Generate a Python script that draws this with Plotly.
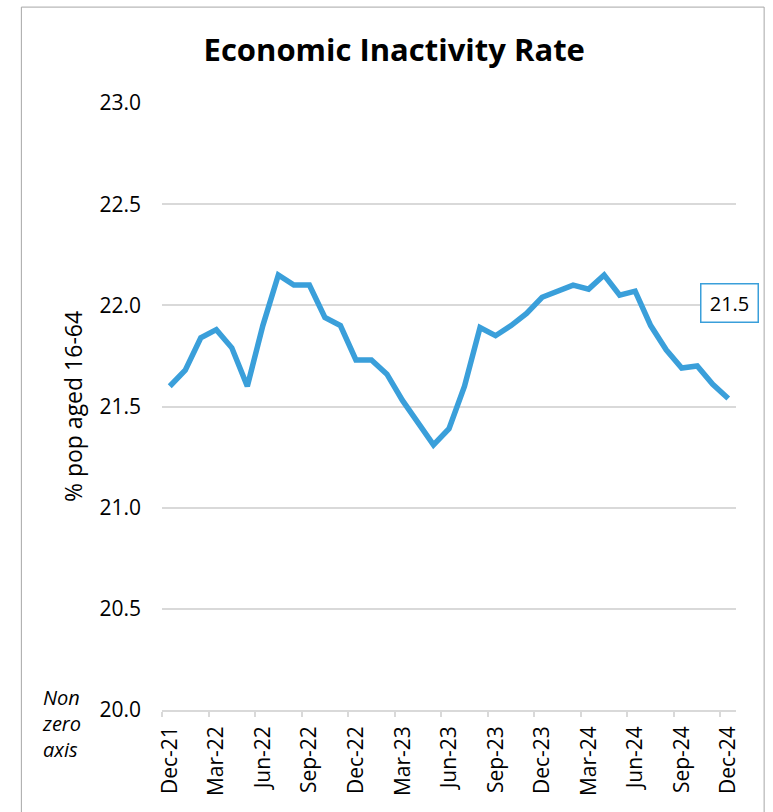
import plotly.graph_objects as go

# ---- data ----
months = ["Dec-21", "Jan-22", "Feb-22", "Mar-22", "Apr-22", "May-22", "Jun-22", "Jul-22",
          "Aug-22", "Sep-22", "Oct-22", "Nov-22", "Dec-22", "Jan-23", "Feb-23", "Mar-23",
          "Apr-23", "May-23", "Jun-23", "Jul-23", "Aug-23", "Sep-23", "Oct-23", "Nov-23",
          "Dec-23", "Jan-24", "Feb-24", "Mar-24", "Apr-24", "May-24", "Jun-24", "Jul-24",
          "Aug-24", "Sep-24", "Oct-24", "Nov-24", "Dec-24"]
inactivity = [21.60, 21.68, 21.84, 21.88, 21.79, 21.60, 21.90, 22.15,
              22.10, 22.10, 21.94, 21.90, 21.73, 21.73, 21.66, 21.53,
              21.42, 21.31, 21.39, 21.60, 21.89, 21.85, 21.90, 21.96,
              22.04, 22.07, 22.10, 22.08, 22.15, 22.05, 22.07, 21.90,
              21.78, 21.69, 21.70, 21.61, 21.54]
tick_labels = months[::3]
y_ticks = [20.0, 20.5, 21.0, 21.5, 22.0, 22.5, 23.0]

x_idx = list(range(len(months)))
tick_pos = [i - 0.5 for i in x_idx[::3]]

LINE = "#3A9FDA"
GRID = "#D9D9D9"
FONT = "Open Sans"

fig = go.Figure()
fig.add_trace(go.Scatter(
    x=x_idx, y=inactivity, mode="lines",
    line=dict(color=LINE, width=5.5, shape="linear"),
    hoverinfo="skip", showlegend=False,
))

fig.update_layout(
    width=773, height=812,
    margin=dict(l=162, r=37, t=103, b=102),
    paper_bgcolor="white", plot_bgcolor="white",
    showlegend=False,
    title=dict(text="<b>Economic Inactivity Rate</b>", x=0.51, xanchor="center",
               y=0.938, yanchor="middle",
               font=dict(family=FONT, size=31, color="black")),
    xaxis=dict(
        range=[-0.5, len(months) - 0.5], tickmode="array",
        tickvals=tick_pos, ticktext=tick_labels, tickangle=-90,
        ticks="outside", ticklen=5, tickwidth=1.5, tickcolor=GRID,
        ticklabelshift=8, ticklabelstandoff=1,
        showline=True, linecolor=GRID, linewidth=1.5,
        showgrid=False, zeroline=False,
        tickfont=dict(family=FONT, size=21, color="black"),
    ),
    yaxis=dict(
        range=[20, 23], tickmode="array", tickvals=y_ticks,
        ticktext=[f"{v:.1f}" for v in y_ticks],
        showgrid=True, gridcolor=GRID, gridwidth=1.5,
        zeroline=False, showline=False, ticks="", ticklabelstandoff=20,
        tickfont=dict(family=FONT, size=21, color="black"),
        title=dict(text="% pop aged 16-64", standoff=10,
                   font=dict(family=FONT, size=23, color="black")),
    ),
)

# end-of-series value label
fig.add_annotation(
    x=x_idx[-1], y=inactivity[-1], text=f"{inactivity[-1]:.1f}",
    showarrow=False, yshift=95, xshift=1,
    font=dict(family=FONT, size=20, color="black"),
    bordercolor=LINE, borderwidth=1.5, borderpad=5,
    bgcolor="white", width=46, height=27,
)

# "Non zero axis" note
fig.add_annotation(
    xref="paper", yref="paper", x=-0.212, y=-0.022,
    xanchor="left", yanchor="middle", align="left",
    text="<i>Non<br>zero<br>axis</i>", showarrow=False,
    font=dict(family=FONT, size=20, color="black"),
)

# chart frame
fig.add_shape(type="rect", xref="paper", yref="paper",
              x0=-0.245, x1=1.049, y0=-0.2, y1=1.158,
              line=dict(color="#A6A6A6", width=1), layer="below")

fig.write_html("out.html")
